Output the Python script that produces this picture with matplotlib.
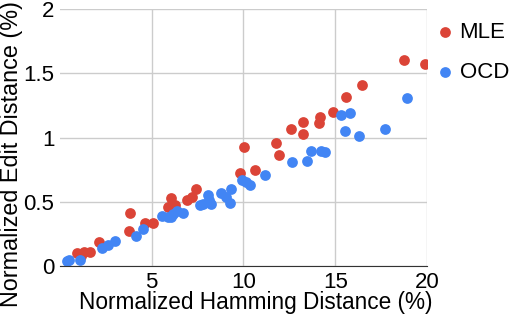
import matplotlib.pyplot as plt

plt.rcParams['font.family'] = ['Liberation Sans', 'DejaVu Sans']

mle_x = [0.94, 1.12, 1.30, 1.66, 2.11, 3.74, 3.83, 4.61, 5.09, 5.87, 6.05, 6.27, 6.94, 7.17, 7.39,
         9.83, 10.03, 10.6, 11.79, 11.92, 12.6, 13.26, 13.26, 14.09, 14.18, 14.9, 15.57, 16.48, 18.73, 19.87]
mle_y = [0.10, 0.076, 0.11, 0.11, 0.19, 0.276, 0.411, 0.338, 0.333, 0.462, 0.527, 0.475, 0.514, 0.539, 0.596,
         0.724, 0.925, 0.75, 0.956, 0.866, 1.067, 1.118, 1.029, 1.113, 1.157, 1.198, 1.319, 1.41, 1.60, 1.57]

ocd_x = [0.40, 0.49, 1.08, 2.29, 2.60, 2.98, 4.14, 4.55, 5.54, 5.91, 6.05, 6.18, 6.36, 6.72, 7.62, 7.80,
         8.04, 8.13, 8.22, 8.8, 9.07, 9.28, 9.34, 9.93, 10.12, 10.33, 11.18, 12.64, 13.44, 13.67, 14.2,
         14.45, 15.32, 15.53, 15.8, 16.3, 17.69, 18.9]
ocd_y = [0.037, 0.05, 0.045, 0.14, 0.161, 0.197, 0.23, 0.287, 0.39, 0.38, 0.38, 0.403, 0.429, 0.411, 0.475, 0.483,
         0.552, 0.514, 0.483, 0.565, 0.539, 0.488, 0.598, 0.668, 0.65, 0.629, 0.707, 0.81, 0.817, 0.894, 0.894,
         0.889, 1.178, 1.051, 1.188, 1.015, 1.07, 1.307]

x_ticks = [5, 10, 15, 20]
y_ticks = [0, 0.5, 1, 1.5, 2]
y_labels = ['0', '0.5', '1', '1.5', '2']

fig = plt.figure(figsize=(5.1, 3.14), dpi=100)
ax = fig.add_axes([60/510, 48/314, 367/510, 257/314])

ax.scatter(mle_x, mle_y, s=60, color='#DB4437', label='MLE', zorder=3, linewidths=0)
ax.scatter(ocd_x, ocd_y, s=60, color='#4285F4', label='OCD', zorder=3, linewidths=0)

ax.set_xlim(0, 20)
ax.set_ylim(0, 2)
ax.set_xticks(x_ticks)
ax.set_xticklabels([str(t) for t in x_ticks])
ax.set_yticks(y_ticks)
ax.set_yticklabels(y_labels)
ax.tick_params(length=0, labelsize=16, pad=4)
ax.grid(color='#cccccc', linewidth=1)
ax.set_axisbelow(True)
for s in ['top', 'right', 'left']:
    ax.spines[s].set_visible(False)
ax.spines['bottom'].set_color('#333333')
ax.spines['bottom'].set_zorder(4)

ax.set_xlabel('Normalized Hamming Distance (%)', fontsize=16.3)
ax.set_ylabel('Normalized Edit Distance (%)', fontsize=16.8)
ax.xaxis.set_label_coords(0.534, -0.097)
ax.yaxis.set_label_coords(-0.10, 0.436)

ax.legend(loc='upper left', bbox_to_anchor=(434/510, (314-22)/314), bbox_transform=fig.transFigure,
          frameon=False, fontsize=16, handlelength=1.0, handletextpad=0.15, labelspacing=0.85,
          borderaxespad=0, borderpad=0)

fig.savefig('out.png', dpi=100)
